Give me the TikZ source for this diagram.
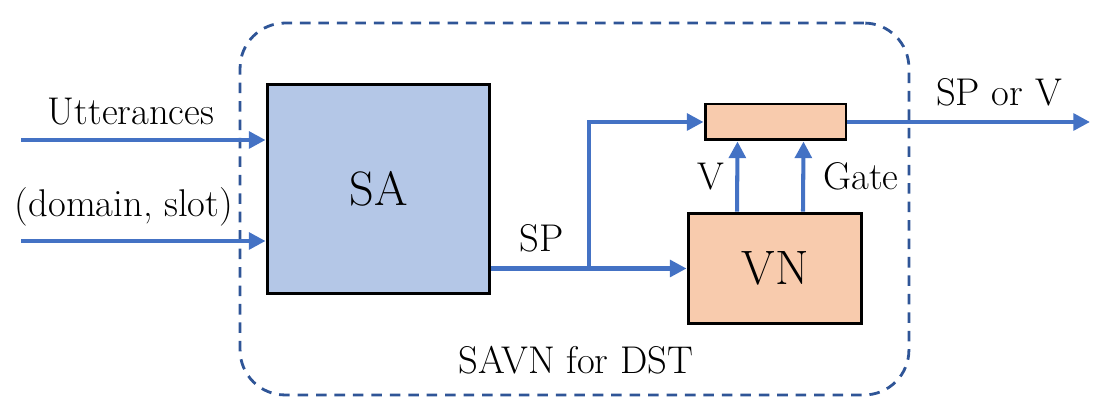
\documentclass[tikz,border=0pt]{standalone}
\usetikzlibrary{positioning}
\usetikzlibrary{arrows.meta}
\definecolor{flowblue}{HTML}{4472C4}
\definecolor{framedark}{HTML}{2F5597}
\definecolor{blockblue}{HTML}{B4C7E7}
\definecolor{blockpeach}{HTML}{F8CBAD}
\tikzset{
   block/.style = {%
    shape=rectangle,
    draw=black,
    line width=1.7pt,
    align=center,
    inner sep=0pt,
    font=\fontsize{27.5}{32}\selectfont},
 flow/.style = {%
    draw=flowblue,
    line width=2.3pt,% <-- blue connectors
    -{Triangle[length=9.5pt,width=9.5pt]}},
 lbl/.style = {%
    inner sep=0pt,
    anchor=base,
    font=\fontsize{22}{26}\selectfont},
    }

\begin{document}
\begin{tikzpicture}[x=0.02cm,y=-0.02cm]
    \useasboundingbox (0,0) rectangle (1113,418);
    % outer frame
    \node[draw=framedark, line width=1.6pt, dash pattern=on 6pt off 4.5pt,
          rounded corners=0.9cm, minimum width=13.38cm, minimum height=7.44cm,
          inner sep=0pt] (savn) at (574.5,209) {};
    % blocks
    \node[block, fill=blockblue, minimum width=4.46cm, minimum height=4.18cm] (sa) at (378.5,189) {SA};
    \node[block, fill=blockpeach, minimum width=3.48cm, minimum height=2.22cm] (vn) at (775,268.5) {VN};
    \node[block, fill=blockpeach, minimum width=2.82cm, minimum height=0.72cm] (gate) at (775.5,122) {};
    % free ends
    \coordinate (uttin) at (21,140);
    \coordinate (slotin) at (21,241);
    \coordinate (split) at (589,268.5);
    \coordinate (out) at (1090,122);
    % connectors
    \draw[flow] (uttin) -- (sa.west |- uttin);
    \draw[flow] (slotin) -- (sa.west |- slotin);
    \draw[flow] (sa.east |- vn.west) -- (vn.west);
    \draw[flow] (split) |- (gate.west);
    \draw[flow] ([xshift=-0.76cm]vn.north) -- ([xshift=-0.76cm]gate.south);
    \draw[flow] ([xshift=0.56cm]vn.north) -- ([xshift=0.56cm]gate.south);
    \draw[flow] (gate.east) -- (out);
    % labels
    \node[lbl] (uttlbl) at (131,125) {Utterances};
    \node[lbl] (slotlbl) at (124,217) {(domain, slot)};
    \node[lbl] (splbl) at (542,252) {SP};
    \node[lbl] (vlbl) at (711,190) {V};
    \node[lbl] (gatelbl) at (861,190) {Gate};
    \node[lbl] (outlbl) at (999,106) {SP or V};
    \node[lbl] (savnlbl) at (576,374) {SAVN for DST};
\end{tikzpicture}
\end{document}
